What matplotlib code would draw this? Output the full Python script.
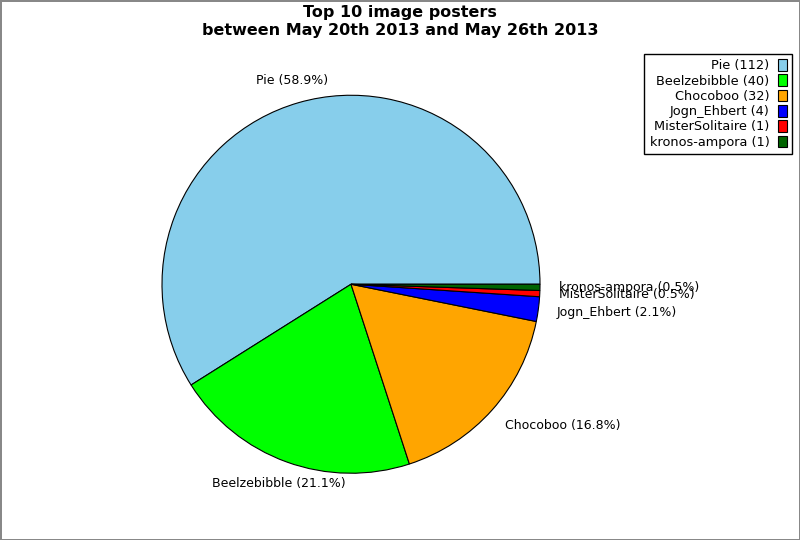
import matplotlib
matplotlib.use('Agg')
import matplotlib.pyplot as plt

# poster counts for the week
names = ['Pie', 'Beelzebibble', 'Chocoboo', 'Jogn_Ehbert', 'MisterSolitaire', 'kronos-ampora']
counts = [112, 40, 32, 4, 1, 1]
colors = ['#87CEEB', '#00FF00', '#FFA500', '#0000FF', '#FF0000', '#006400']

total = sum(counts)
pie_labels = [f'{n} ({c / total * 100:.1f}%)' for n, c in zip(names, counts)]
legend_labels = [f'{n} ({c})' for n, c in zip(names, counts)]

fig = plt.figure(figsize=(8, 5.4), dpi=100)
fig.patch.set_edgecolor('#888888')
fig.patch.set_linewidth(2)

ax = fig.add_axes([114.75 / 800, 19.5 / 540, 472.5 / 800, 472.5 / 540])
wedges, texts = ax.pie(counts, labels=pie_labels, colors=colors, startangle=0,
                       counterclock=True, labeldistance=1.12,
                       wedgeprops={'edgecolor': 'black', 'linewidth': 0.8},
                       textprops={'fontsize': 9})
# left-side labels sit centred on their anchor, right-side ones a bit closer in
for t in texts:
    x, y = t.get_position()
    if x < 0:
        t.set_horizontalalignment('center')
    else:
        t.set_position((x - 0.02, y))
ax.set_xlim(-1.25, 1.25)
ax.set_ylim(-1.25, 1.25)
ax.set_aspect('equal')

fig.suptitle('Top 10 image posters\nbetween May 20th 2013 and May 26th 2013',
             fontsize=11.5, fontweight='bold', y=0.991, linespacing=1.25)

leg = fig.legend(wedges, legend_labels, loc='upper right',
                 bbox_to_anchor=(792 / 800, 1 - 54 / 540), borderaxespad=0,
                 markerfirst=False, fontsize=9.3, handlelength=0.65,
                 handleheight=1.0, handletextpad=0.7, labelspacing=0.16,
                 borderpad=0.4, fancybox=False, framealpha=1)
leg.get_frame().set_edgecolor('black')
leg.get_frame().set_linewidth(1)

fig.savefig('out.png', dpi=100)
